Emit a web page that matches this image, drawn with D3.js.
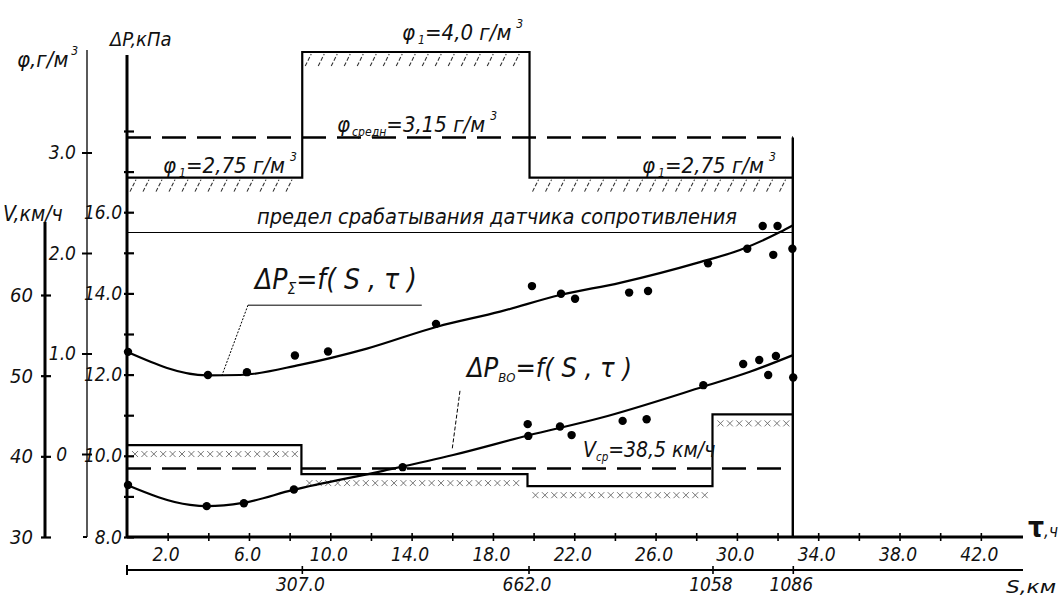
<!DOCTYPE html>
<html><head><meta charset="utf-8">
<script src="https://cdn.jsdelivr.net/npm/d3@7"></script>
<style>
body{margin:0;background:#fff;}
svg{display:block;}
text{font-family:"Liberation Sans Narrow","DejaVu Sans Condensed","Arial Narrow",sans-serif;font-style:italic;fill:#111;}
</style></head><body>
<svg id="c" width="1062" height="599"></svg>
<script>
// ---------- data ----------
const tauTicks = [2,4,6,8,10,12,14,16,18,20,22,24,26,28,30,32,34,36,38,40,42];
const tauLabelled = [2,6,10,14,18,22,26,30,34,38,42];
const sTickTau = [8.6, 19.75, 28.8, 32.75];
const sTickLabels = ["307.0","662.0","1058","1086"];
const dpTicks = [8,9,10,11,12,13,14,15,16,17,18];
const dpLabelled = [8,10,12,14,16];
const phiTicks = [0,1,2,3];
const phiTickLabels = ["0","1.0","2.0","3.0"];
const vTicks = [30,40,50,60];

const phiBreaks = [0, 8.62, 19.8, 32.75];
const phiValues = [2.75, 4.0, 2.75];
const phiMean = 3.15;
const vBreaks = [0, 8.58, 19.7, 28.8, 32.75];
const vValues = [41.4, 37.8, 36.3, 45.2];
const vMean = 38.5;
const sensorLimit = 15.5;
const tauEnd = 32.75;

// ΔP_Σ measured points
const sumTau = [0.05,3.98,5.9,8.26,9.89,15.2,19.92,21.35,22.04,24.7,25.63,28.58,30.51,31.27,32.0,31.79,32.73];
const sumDP  = [12.56,11.99,12.06,12.47,12.57,13.25,14.18,13.99,13.87,14.02,14.06,14.74,15.1,15.66,15.66,14.95,15.1];
// ΔP_Σ fitted curve nodes
const sumFitTau = [0,3.94,5.56,8.51,11.8,15.25,18.35,21.3,24.25,28.18,30.15,32.12,32.76];
const sumFitDP  = [12.56,11.98,11.99,12.24,12.64,13.18,13.55,13.96,14.26,14.77,15.07,15.51,15.68];
// ΔP_ВО measured points
const voTau = [0.05,3.92,5.75,8.21,13.56,19.71,19.74,21.3,21.87,24.38,25.56,28.35,30.31,31.1,31.92,31.54,32.77];
const voDP  = [9.28,8.76,8.83,9.17,9.72,10.78,10.49,10.72,10.51,10.86,10.9,11.74,12.26,12.36,12.46,11.99,11.93];
// ΔP_ВО fitted curve nodes
const voFitTau = [0,3.1,3.94,5.7,8.17,12.6,16.04,19.72,23.27,28.33,30.64,32.76];
const voFitDP  = [9.28,8.79,8.76,8.84,9.16,9.63,10.02,10.5,10.93,11.7,12.07,12.48];

// ---------- scales ----------
const svg = d3.select("#c");
const x = d3.scaleLinear().domain([0,44]).range([127,1021.5]);
const yP = d3.scaleLinear().domain([8,18]).range([537,131]);
const yPhi = d3.scaleLinear().domain([0,4]).range([454,52]);
const yV = d3.scaleLinear().domain([30,60]).range([537,295]);

const g = svg.append("g");

// ---------- hatching (φ) ----------
const phiSegs = phiValues.map((v,i)=>({a:phiBreaks[i],b:phiBreaks[i+1],v}));
phiSegs.forEach(s=>{
  const y0 = yPhi(s.v);
  g.selectAll(null).data(d3.range(x(s.a)+6, x(s.b)-3, 13)).enter().append("path")
    .attr("d", d=>`M${d-3},${y0+14}L${d+3},${y0+2}`)
    .attr("stroke","#333").attr("stroke-width",1.1).attr("stroke-dasharray","4,2").attr("fill","none");
});
// ---------- hatching (V) ----------
const vSegs = vValues.map((v,i)=>({a:vBreaks[i],b:vBreaks[i+1],v}));
vSegs.forEach(s=>{
  const y0 = yV(s.v)+9;
  g.selectAll(null).data(d3.range(x(s.a)+8, x(s.b)-3, 9.4)).enter().append("path")
    .attr("d", d=>`M${d-3},${y0-3}L${d+3},${y0+3}M${d+3},${y0-3}L${d-3},${y0+3}`)
    .attr("stroke","#666").attr("stroke-width",0.9).attr("fill","none");
});

// ---------- step lines ----------
const stepLine = d3.line().curve(d3.curveStepAfter);
const phiPts = phiValues.map((v,i)=>[x(phiBreaks[i]), yPhi(v)]).concat([[x(tauEnd), yPhi(phiValues[phiValues.length-1])]]);
g.append("path").attr("d", stepLine(phiPts)).attr("fill","none").attr("stroke","#000").attr("stroke-width",2.2);
const vPts = vValues.map((v,i)=>[x(vBreaks[i]), yV(v)]).concat([[x(tauEnd), yV(vValues[vValues.length-1])]]);
g.append("path").attr("d", stepLine(vPts)).attr("fill","none").attr("stroke","#000").attr("stroke-width",2.2);

// right boundary
g.append("line").attr("x1",x(tauEnd)).attr("x2",x(tauEnd)).attr("y1",yPhi(phiMean)).attr("y2",yP(8))
  .attr("stroke","#000").attr("stroke-width",2.4);

// dashed means
g.append("line").attr("x1",x(0)).attr("x2",x(tauEnd)).attr("y1",yPhi(phiMean)).attr("y2",yPhi(phiMean))
  .attr("stroke","#000").attr("stroke-width",2.6).attr("stroke-dasharray","24,11");
g.append("line").attr("x1",x(0)).attr("x2",x(tauEnd)).attr("y1",yV(vMean)).attr("y2",yV(vMean))
  .attr("stroke","#000").attr("stroke-width",2.6).attr("stroke-dasharray","24,11");

// sensor limit
g.append("line").attr("x1",x(0)).attr("x2",x(tauEnd)).attr("y1",yP(sensorLimit)).attr("y2",yP(sensorLimit))
  .attr("stroke","#000").attr("stroke-width",1.1);

// ---------- curves ----------
const curve = d3.line().x(d=>x(d[0])).y(d=>yP(d[1])).curve(d3.curveMonotoneX);
g.append("path").attr("d", curve(sumFitTau.map((t,i)=>[t,sumFitDP[i]]))).attr("fill","none").attr("stroke","#000").attr("stroke-width",2.2);
g.append("path").attr("d", curve(voFitTau.map((t,i)=>[t,voFitDP[i]]))).attr("fill","none").attr("stroke","#000").attr("stroke-width",2.2);

g.selectAll(null).data(sumTau.map((t,i)=>[t,sumDP[i]])).enter().append("circle")
  .attr("cx",d=>x(d[0])).attr("cy",d=>yP(d[1])).attr("r",4.2).attr("fill","#000");
g.selectAll(null).data(voTau.map((t,i)=>[t,voDP[i]])).enter().append("circle")
  .attr("cx",d=>x(d[0])).attr("cy",d=>yP(d[1])).attr("r",4.2).attr("fill","#000");

// leaders
g.append("line").attr("x1",x(5.95)).attr("x2",x(14.5)).attr("y1",yP(13.71)).attr("y2",yP(13.71)).attr("stroke","#000").attr("stroke-width",1);
g.append("line").attr("x1",x(5.95)).attr("y1",yP(13.71)).attr("x2",x(4.67)).attr("y2",yP(11.98)).attr("stroke","#000").attr("stroke-width",1).attr("stroke-dasharray","2,1.5");
g.append("line").attr("x1",x(16.38)).attr("y1",yP(11.6)).attr("x2",x(15.99)).attr("y2",yP(10.14)).attr("stroke","#000").attr("stroke-width",1).attr("stroke-dasharray","4,2");

// ---------- axes ----------
const FS = 19;
// ΔP axis
const axP = d3.axisLeft(yP).tickValues(dpTicks).tickFormat(d=>dpLabelled.includes(d)?d.toFixed(1):"");
const gP = svg.append("g").attr("transform","translate(127,0)").call(axP);
gP.select(".domain").remove();
gP.selectAll(".tick line").attr("x1",-3).attr("x2",7).attr("stroke","#000").attr("stroke-width",2.2);
gP.selectAll(".tick text").attr("x",-5).attr("font-size",FS).attr("font-family",null).attr("fill","#111");
svg.append("line").attr("x1",127).attr("x2",127).attr("y1",55).attr("y2",yP(8)+1).attr("stroke","#000").attr("stroke-width",3);

// φ axis
const axPhi = d3.axisLeft(yPhi).tickValues(phiTicks).tickFormat((d,i)=>phiTickLabels[i]);
const gPhi = svg.append("g").attr("transform","translate(87,0)").call(axPhi);
gPhi.select(".domain").remove();
gPhi.selectAll(".tick line").attr("x1",-5).attr("x2",5).attr("stroke","#000").attr("stroke-width",2);
gPhi.selectAll(".tick text").attr("x",d=>d===0?-20:-11).attr("font-size",FS).attr("font-family",null).attr("fill","#111");
svg.append("line").attr("x1",87).attr("x2",87).attr("y1",50).attr("y2",537).attr("stroke","#000").attr("stroke-width",1.3);
svg.append("line").attr("x1",83).attr("x2",87).attr("y1",537).attr("y2",537).attr("stroke","#000").attr("stroke-width",2);

// V axis
const axV = d3.axisLeft(yV).tickValues(vTicks).tickFormat(d=>String(d));
const gV = svg.append("g").attr("transform","translate(45,0)").call(axV);
gV.select(".domain").remove();
gV.selectAll(".tick line").attr("x1",-4).attr("x2",6).attr("stroke","#000").attr("stroke-width",2.2);
gV.selectAll(".tick text").attr("x",-12).attr("font-size",FS+1).attr("font-family",null).attr("fill","#111");
svg.append("line").attr("x1",45).attr("x2",45).attr("y1",222).attr("y2",537).attr("stroke","#000").attr("stroke-width",3);

// τ axis
const axT = d3.axisBottom(x).tickValues(tauTicks).tickFormat(d=>tauLabelled.includes(d)?d.toFixed(1):"");
const gT = svg.append("g").attr("transform","translate(0,537)").call(axT);
gT.select(".domain").remove();
gT.selectAll(".tick line").attr("y1",-4).attr("y2",4).attr("stroke","#000").attr("stroke-width",1.6);
gT.selectAll(".tick text").attr("y",11).attr("x",-2).attr("font-size",FS).attr("font-family",null).attr("fill","#111");
svg.append("line").attr("x1",127).attr("x2",1023).attr("y1",537).attr("y2",537).attr("stroke","#000").attr("stroke-width",3);

// S axis
const axS = d3.axisBottom(x).tickValues(sTickTau).tickFormat((d,i)=>sTickLabels[i]);
const gS = svg.append("g").attr("transform","translate(0,570)").call(axS);
gS.select(".domain").remove();
gS.selectAll(".tick line").attr("y1",-4).attr("y2",4).attr("stroke","#000").attr("stroke-width",1.6);
gS.selectAll(".tick text").attr("y",8).attr("x",-2).attr("font-size",FS).attr("font-family",null).attr("fill","#111");
svg.append("line").attr("x1",127).attr("x2",1023).attr("y1",570).attr("y2",570).attr("stroke","#000").attr("stroke-width",1.8);
svg.append("line").attr("x1",127).attr("x2",127).attr("y1",565).attr("y2",575).attr("stroke","#000").attr("stroke-width",2);

// ---------- texts ----------
function label(xp, yp, parts, size){
  const t = svg.append("text").attr("x",xp).attr("y",yp).attr("font-size",size);
  parts.forEach(p=>{
    const s = t.append("tspan").text(p.t);
    if(p.sub){ s.attr("font-size",size*(p.scale||0.55)).attr("dy",size*0.18); }
    if(p.sup){ s.attr("font-size",size*0.55).attr("dy",-size*0.55); }
    if(p.back){ s.attr("dy",p.back); }
    if(p.dx) s.attr("dx",p.dx);
  });
  return t;
}
label(17, 67, [{t:"φ,г/м"},{t:"3",sup:true,dx:3}], 22);
label(110, 46, [{t:"ΔP,кПа"}], 20);
label(3, 221, [{t:"V,км/ч"}], 21);
label(402, 40, [{t:"φ"},{t:"1",sub:true,dx:3},{t:"=4,0 г/м",back:-22*0.18},{t:"3",sup:true,dx:5}], 22);
label(337, 132, [{t:"φ"},{t:"средн",sub:true,dx:2},{t:"=3,15 г/м",back:-22*0.18},{t:"3",sup:true,dx:5}], 22);
label(163, 173, [{t:"φ"},{t:"1",sub:true,dx:3},{t:"=2,75 г/м",back:-22*0.18},{t:"3",sup:true,dx:5}], 22);
label(642, 173, [{t:"φ"},{t:"1",sub:true,dx:3},{t:"=2,75 г/м",back:-22*0.18},{t:"3",sup:true,dx:5}], 22);
svg.append("text").attr("x",257).attr("y",224).attr("font-size",22).attr("textLength",480).attr("lengthAdjust","spacingAndGlyphs")
  .text("предел срабатывания датчика сопротивления");
label(255, 289, [{t:"ΔP"},{t:"Σ",sub:true},{t:"=f( S , τ )",back:-28*0.18}], 28);
label(467, 377, [{t:"ΔP"},{t:"ВО",sub:true,scale:0.48},{t:"=f( S , τ )",back:-28*0.18}], 27);
label(583, 457, [{t:"V"},{t:"ср",sub:true},{t:"=38,5 км/ч",back:-21*0.18}], 21);
const tl = svg.append("text").attr("x",1028).attr("y",537);
tl.append("tspan").text("τ").attr("font-size",28).attr("font-style","normal").attr("font-weight","bold");
tl.append("tspan").text(",ч").attr("font-size",17);
svg.append("text").attr("x",1006).attr("y",593).attr("font-size",18).attr("textLength",50).attr("lengthAdjust","spacingAndGlyphs").text("S,км");
</script>
</body></html>
